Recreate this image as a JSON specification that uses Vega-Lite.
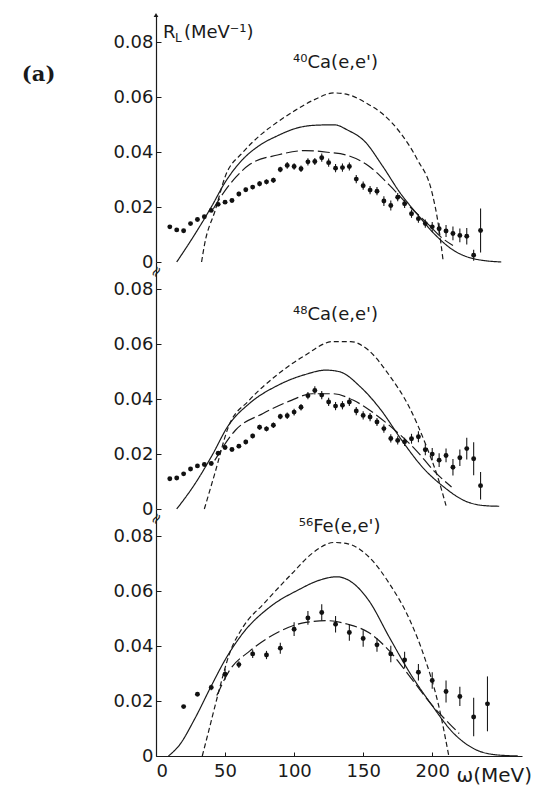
{
  "$schema": "https://vega.github.io/schema/vega-lite/v6.json",
  "background": "white",
  "padding": {"left": 21, "top": 12, "right": 0, "bottom": 0},
  "spacing": 0,
  "bounds": "flush",
  "config": {
    "view": {"stroke": null},
    "font": "DejaVu Sans",
    "axis": {
      "grid": false,
      "domainColor": "#1a1a1a",
      "domainWidth": 1.2,
      "tickColor": "#1a1a1a",
      "labelColor": "#1a1a1a",
      "labelFont": "DejaVu Sans",
      "labelFontSize": 18,
      "titleColor": "#1a1a1a"
    }
  },
  "datasets": {
    "curves": [
      {"p": 1, "m": "solid", "w": 15, "R": 0},
      {"p": 1, "m": "solid", "w": 28, "R": 0.01},
      {"p": 1, "m": "solid", "w": 40, "R": 0.02},
      {"p": 1, "m": "solid", "w": 50, "R": 0.029},
      {"p": 1, "m": "solid", "w": 63, "R": 0.0375},
      {"p": 1, "m": "solid", "w": 75, "R": 0.0425},
      {"p": 1, "m": "solid", "w": 88, "R": 0.046},
      {"p": 1, "m": "solid", "w": 100, "R": 0.0485},
      {"p": 1, "m": "solid", "w": 114, "R": 0.0498},
      {"p": 1, "m": "solid", "w": 129, "R": 0.05},
      {"p": 1, "m": "solid", "w": 139, "R": 0.048},
      {"p": 1, "m": "solid", "w": 151, "R": 0.044},
      {"p": 1, "m": "solid", "w": 164, "R": 0.035},
      {"p": 1, "m": "solid", "w": 177, "R": 0.025},
      {"p": 1, "m": "solid", "w": 189, "R": 0.0175},
      {"p": 1, "m": "solid", "w": 202, "R": 0.01},
      {"p": 1, "m": "solid", "w": 215, "R": 0.0044},
      {"p": 1, "m": "solid", "w": 230, "R": 0.0012},
      {"p": 1, "m": "solid", "w": 250, "R": 0},
      {"p": 1, "m": "upper", "w": 33, "R": 0},
      {"p": 1, "m": "upper", "w": 35, "R": 0.006},
      {"p": 1, "m": "upper", "w": 43, "R": 0.019},
      {"p": 1, "m": "upper", "w": 50, "R": 0.031},
      {"p": 1, "m": "upper", "w": 63, "R": 0.04},
      {"p": 1, "m": "upper", "w": 75, "R": 0.046},
      {"p": 1, "m": "upper", "w": 88, "R": 0.051},
      {"p": 1, "m": "upper", "w": 100, "R": 0.055},
      {"p": 1, "m": "upper", "w": 114, "R": 0.059},
      {"p": 1, "m": "upper", "w": 129, "R": 0.0616},
      {"p": 1, "m": "upper", "w": 139, "R": 0.061},
      {"p": 1, "m": "upper", "w": 152, "R": 0.058},
      {"p": 1, "m": "upper", "w": 164, "R": 0.054},
      {"p": 1, "m": "upper", "w": 177, "R": 0.047},
      {"p": 1, "m": "upper", "w": 189, "R": 0.0375},
      {"p": 1, "m": "upper", "w": 200, "R": 0.025},
      {"p": 1, "m": "upper", "w": 204, "R": 0.015},
      {"p": 1, "m": "upper", "w": 208, "R": 0},
      {"p": 1, "m": "lower", "w": 41.5, "R": 0.0194},
      {"p": 1, "m": "lower", "w": 50, "R": 0.026},
      {"p": 1, "m": "lower", "w": 58, "R": 0.031},
      {"p": 1, "m": "lower", "w": 68, "R": 0.0356},
      {"p": 1, "m": "lower", "w": 88, "R": 0.039},
      {"p": 1, "m": "lower", "w": 108, "R": 0.0406},
      {"p": 1, "m": "lower", "w": 124, "R": 0.04},
      {"p": 1, "m": "lower", "w": 139, "R": 0.0388},
      {"p": 1, "m": "lower", "w": 154, "R": 0.035},
      {"p": 1, "m": "lower", "w": 169, "R": 0.028},
      {"p": 1, "m": "lower", "w": 184, "R": 0.02},
      {"p": 1, "m": "lower", "w": 197, "R": 0.0138},
      {"p": 1, "m": "lower", "w": 207, "R": 0.0088},
      {"p": 1, "m": "lower", "w": 215, "R": 0.006},

      {"p": 2, "m": "solid", "w": 15, "R": 0},
      {"p": 2, "m": "solid", "w": 28, "R": 0.009},
      {"p": 2, "m": "solid", "w": 40, "R": 0.019},
      {"p": 2, "m": "solid", "w": 52.5, "R": 0.0305},
      {"p": 2, "m": "solid", "w": 67.5, "R": 0.0384},
      {"p": 2, "m": "solid", "w": 88, "R": 0.045},
      {"p": 2, "m": "solid", "w": 108, "R": 0.049},
      {"p": 2, "m": "solid", "w": 123, "R": 0.0506},
      {"p": 2, "m": "solid", "w": 133, "R": 0.05},
      {"p": 2, "m": "solid", "w": 148, "R": 0.0445},
      {"p": 2, "m": "solid", "w": 163, "R": 0.036},
      {"p": 2, "m": "solid", "w": 178, "R": 0.025},
      {"p": 2, "m": "solid", "w": 193, "R": 0.0152},
      {"p": 2, "m": "solid", "w": 208.5, "R": 0.008},
      {"p": 2, "m": "solid", "w": 223.5, "R": 0.003},
      {"p": 2, "m": "solid", "w": 238.5, "R": 0.0012},
      {"p": 2, "m": "solid", "w": 248.5, "R": 0.001},
      {"p": 2, "m": "upper", "w": 35, "R": 0},
      {"p": 2, "m": "upper", "w": 42.5, "R": 0.0128},
      {"p": 2, "m": "upper", "w": 52.5, "R": 0.03},
      {"p": 2, "m": "upper", "w": 67.5, "R": 0.0396},
      {"p": 2, "m": "upper", "w": 88, "R": 0.049},
      {"p": 2, "m": "upper", "w": 108, "R": 0.056},
      {"p": 2, "m": "upper", "w": 128, "R": 0.061},
      {"p": 2, "m": "upper", "w": 141, "R": 0.061},
      {"p": 2, "m": "upper", "w": 153.5, "R": 0.058},
      {"p": 2, "m": "upper", "w": 168.5, "R": 0.049},
      {"p": 2, "m": "upper", "w": 183.5, "R": 0.037},
      {"p": 2, "m": "upper", "w": 196, "R": 0.0226},
      {"p": 2, "m": "upper", "w": 204, "R": 0.0116},
      {"p": 2, "m": "upper", "w": 210, "R": 0.0012},
      {"p": 2, "m": "lower", "w": 42.5, "R": 0.0177},
      {"p": 2, "m": "lower", "w": 57.5, "R": 0.0287},
      {"p": 2, "m": "lower", "w": 77.5, "R": 0.0348},
      {"p": 2, "m": "lower", "w": 98, "R": 0.0396},
      {"p": 2, "m": "lower", "w": 113, "R": 0.042},
      {"p": 2, "m": "lower", "w": 128, "R": 0.042},
      {"p": 2, "m": "lower", "w": 143, "R": 0.0396},
      {"p": 2, "m": "lower", "w": 158, "R": 0.0348},
      {"p": 2, "m": "lower", "w": 173, "R": 0.0287},
      {"p": 2, "m": "lower", "w": 188.5, "R": 0.0213},
      {"p": 2, "m": "lower", "w": 201, "R": 0.014},
      {"p": 2, "m": "lower", "w": 214, "R": 0.008},

      {"p": 3, "m": "solid", "w": 9, "R": 0},
      {"p": 3, "m": "solid", "w": 17, "R": 0.004},
      {"p": 3, "m": "solid", "w": 28, "R": 0.0135},
      {"p": 3, "m": "solid", "w": 40, "R": 0.0255},
      {"p": 3, "m": "solid", "w": 50, "R": 0.035},
      {"p": 3, "m": "solid", "w": 63, "R": 0.0448},
      {"p": 3, "m": "solid", "w": 83, "R": 0.0545},
      {"p": 3, "m": "solid", "w": 103, "R": 0.0605},
      {"p": 3, "m": "solid", "w": 118, "R": 0.064},
      {"p": 3, "m": "solid", "w": 131, "R": 0.0653},
      {"p": 3, "m": "solid", "w": 141.5, "R": 0.0634},
      {"p": 3, "m": "solid", "w": 154, "R": 0.0567},
      {"p": 3, "m": "solid", "w": 169, "R": 0.0432},
      {"p": 3, "m": "solid", "w": 184.5, "R": 0.0297},
      {"p": 3, "m": "solid", "w": 199.5, "R": 0.0187},
      {"p": 3, "m": "solid", "w": 214.5, "R": 0.0088},
      {"p": 3, "m": "solid", "w": 230, "R": 0.0027},
      {"p": 3, "m": "solid", "w": 245, "R": 0.0005},
      {"p": 3, "m": "solid", "w": 262, "R": 0},
      {"p": 3, "m": "upper", "w": 33.5, "R": 0},
      {"p": 3, "m": "upper", "w": 38, "R": 0.0088},
      {"p": 3, "m": "upper", "w": 45.5, "R": 0.0236},
      {"p": 3, "m": "upper", "w": 53, "R": 0.037},
      {"p": 3, "m": "upper", "w": 63, "R": 0.047},
      {"p": 3, "m": "upper", "w": 78, "R": 0.0555},
      {"p": 3, "m": "upper", "w": 98.5, "R": 0.0665},
      {"p": 3, "m": "upper", "w": 113.5, "R": 0.074},
      {"p": 3, "m": "upper", "w": 129, "R": 0.0778},
      {"p": 3, "m": "upper", "w": 139, "R": 0.0773},
      {"p": 3, "m": "upper", "w": 154, "R": 0.0726},
      {"p": 3, "m": "upper", "w": 169, "R": 0.0628},
      {"p": 3, "m": "upper", "w": 184, "R": 0.0493},
      {"p": 3, "m": "upper", "w": 194.5, "R": 0.0358},
      {"p": 3, "m": "upper", "w": 204.5, "R": 0.0187},
      {"p": 3, "m": "upper", "w": 212, "R": 0},
      {"p": 3, "m": "lower", "w": 44, "R": 0.022},
      {"p": 3, "m": "lower", "w": 53, "R": 0.031},
      {"p": 3, "m": "lower", "w": 68, "R": 0.0383},
      {"p": 3, "m": "lower", "w": 88, "R": 0.045},
      {"p": 3, "m": "lower", "w": 108.5, "R": 0.0487},
      {"p": 3, "m": "lower", "w": 124, "R": 0.0493},
      {"p": 3, "m": "lower", "w": 139, "R": 0.048},
      {"p": 3, "m": "lower", "w": 154, "R": 0.045},
      {"p": 3, "m": "lower", "w": 169, "R": 0.0383},
      {"p": 3, "m": "lower", "w": 184.5, "R": 0.0285},
      {"p": 3, "m": "lower", "w": 199.5, "R": 0.0187},
      {"p": 3, "m": "lower", "w": 212, "R": 0.012},
      {"p": 3, "m": "lower", "w": 219.5, "R": 0.0082}
    ],
    "points": [
      {"p": 1, "w": 10, "R": 0.0128, "err": 0.0005},
      {"p": 1, "w": 15, "R": 0.0117, "err": 0.0005},
      {"p": 1, "w": 20, "R": 0.0114, "err": 0.0005},
      {"p": 1, "w": 25, "R": 0.014, "err": 0.0005},
      {"p": 1, "w": 30, "R": 0.0155, "err": 0.0005},
      {"p": 1, "w": 35, "R": 0.0165, "err": 0.0005},
      {"p": 1, "w": 40, "R": 0.0188, "err": 0.0005},
      {"p": 1, "w": 45, "R": 0.021, "err": 0.0006},
      {"p": 1, "w": 50, "R": 0.0218, "err": 0.0006},
      {"p": 1, "w": 55, "R": 0.0224, "err": 0.0006},
      {"p": 1, "w": 60, "R": 0.0248, "err": 0.0008},
      {"p": 1, "w": 65, "R": 0.0263, "err": 0.0008},
      {"p": 1, "w": 70, "R": 0.0273, "err": 0.0008},
      {"p": 1, "w": 75, "R": 0.0285, "err": 0.0009},
      {"p": 1, "w": 80, "R": 0.0292, "err": 0.0009},
      {"p": 1, "w": 85, "R": 0.0298, "err": 0.0009},
      {"p": 1, "w": 90, "R": 0.0337, "err": 0.001},
      {"p": 1, "w": 95, "R": 0.0352, "err": 0.0012},
      {"p": 1, "w": 100, "R": 0.0348, "err": 0.0012},
      {"p": 1, "w": 105, "R": 0.034, "err": 0.0012},
      {"p": 1, "w": 110, "R": 0.0365, "err": 0.0013},
      {"p": 1, "w": 115, "R": 0.0366, "err": 0.0013},
      {"p": 1, "w": 120, "R": 0.038, "err": 0.0015},
      {"p": 1, "w": 125, "R": 0.0362, "err": 0.0015},
      {"p": 1, "w": 130, "R": 0.0342, "err": 0.0015},
      {"p": 1, "w": 135, "R": 0.0344, "err": 0.0015},
      {"p": 1, "w": 140, "R": 0.0348, "err": 0.0015},
      {"p": 1, "w": 145, "R": 0.0302, "err": 0.0015},
      {"p": 1, "w": 150, "R": 0.0278, "err": 0.0015},
      {"p": 1, "w": 155, "R": 0.0262, "err": 0.0015},
      {"p": 1, "w": 160, "R": 0.0258, "err": 0.0015},
      {"p": 1, "w": 165, "R": 0.0222, "err": 0.0018},
      {"p": 1, "w": 170, "R": 0.0206, "err": 0.0018},
      {"p": 1, "w": 175, "R": 0.0236, "err": 0.0015},
      {"p": 1, "w": 180, "R": 0.0212, "err": 0.0015},
      {"p": 1, "w": 185, "R": 0.0176, "err": 0.0015},
      {"p": 1, "w": 190, "R": 0.0158, "err": 0.0015},
      {"p": 1, "w": 195, "R": 0.014, "err": 0.0015},
      {"p": 1, "w": 200, "R": 0.0128, "err": 0.0018},
      {"p": 1, "w": 205, "R": 0.0121, "err": 0.002},
      {"p": 1, "w": 210, "R": 0.0113, "err": 0.0022},
      {"p": 1, "w": 215, "R": 0.0104, "err": 0.0025},
      {"p": 1, "w": 220, "R": 0.0097, "err": 0.0025},
      {"p": 1, "w": 225, "R": 0.0094, "err": 0.003},
      {"p": 1, "w": 230, "R": 0.0025, "err": 0.002},
      {"p": 1, "w": 235, "R": 0.0115, "err": 0.008},

      {"p": 2, "w": 10, "R": 0.011, "err": 0.0005},
      {"p": 2, "w": 15, "R": 0.0113, "err": 0.0005},
      {"p": 2, "w": 20, "R": 0.0128, "err": 0.0005},
      {"p": 2, "w": 25, "R": 0.0146, "err": 0.0005},
      {"p": 2, "w": 30, "R": 0.0157, "err": 0.0005},
      {"p": 2, "w": 35, "R": 0.0162, "err": 0.0005},
      {"p": 2, "w": 40, "R": 0.0166, "err": 0.0006},
      {"p": 2, "w": 45, "R": 0.0203, "err": 0.0006},
      {"p": 2, "w": 50, "R": 0.0224, "err": 0.0006},
      {"p": 2, "w": 55, "R": 0.0217, "err": 0.0006},
      {"p": 2, "w": 60, "R": 0.0229, "err": 0.0008},
      {"p": 2, "w": 65, "R": 0.0244, "err": 0.0008},
      {"p": 2, "w": 70, "R": 0.0266, "err": 0.0008},
      {"p": 2, "w": 75, "R": 0.0298, "err": 0.0009},
      {"p": 2, "w": 80, "R": 0.0292, "err": 0.0009},
      {"p": 2, "w": 85, "R": 0.0305, "err": 0.001},
      {"p": 2, "w": 90, "R": 0.0337, "err": 0.001},
      {"p": 2, "w": 95, "R": 0.034, "err": 0.0012},
      {"p": 2, "w": 100, "R": 0.0353, "err": 0.0012},
      {"p": 2, "w": 105, "R": 0.0371, "err": 0.0012},
      {"p": 2, "w": 110, "R": 0.0413, "err": 0.0013},
      {"p": 2, "w": 115, "R": 0.0432, "err": 0.0015},
      {"p": 2, "w": 120, "R": 0.0415, "err": 0.0015},
      {"p": 2, "w": 125, "R": 0.039, "err": 0.0015},
      {"p": 2, "w": 130, "R": 0.0375, "err": 0.0015},
      {"p": 2, "w": 135, "R": 0.0378, "err": 0.0015},
      {"p": 2, "w": 140, "R": 0.039, "err": 0.0015},
      {"p": 2, "w": 145, "R": 0.0357, "err": 0.0015},
      {"p": 2, "w": 150, "R": 0.0341, "err": 0.0015},
      {"p": 2, "w": 155, "R": 0.0335, "err": 0.0015},
      {"p": 2, "w": 160, "R": 0.0317, "err": 0.0015},
      {"p": 2, "w": 165, "R": 0.0293, "err": 0.0015},
      {"p": 2, "w": 170, "R": 0.0257, "err": 0.0015},
      {"p": 2, "w": 175, "R": 0.025, "err": 0.0015},
      {"p": 2, "w": 180, "R": 0.0245, "err": 0.0015},
      {"p": 2, "w": 185, "R": 0.0256, "err": 0.0018},
      {"p": 2, "w": 190, "R": 0.0263, "err": 0.002},
      {"p": 2, "w": 195, "R": 0.0216, "err": 0.002},
      {"p": 2, "w": 200, "R": 0.02, "err": 0.0022},
      {"p": 2, "w": 205, "R": 0.0178, "err": 0.0025},
      {"p": 2, "w": 210, "R": 0.0195, "err": 0.0025},
      {"p": 2, "w": 215, "R": 0.0152, "err": 0.003},
      {"p": 2, "w": 220, "R": 0.0187, "err": 0.003},
      {"p": 2, "w": 225, "R": 0.022, "err": 0.004},
      {"p": 2, "w": 230, "R": 0.0183, "err": 0.006},
      {"p": 2, "w": 235, "R": 0.0085, "err": 0.005},

      {"p": 3, "w": 20, "R": 0.018, "err": 0.0005},
      {"p": 3, "w": 30, "R": 0.0225, "err": 0.0006},
      {"p": 3, "w": 40, "R": 0.025, "err": 0.001},
      {"p": 3, "w": 50, "R": 0.0298, "err": 0.002},
      {"p": 3, "w": 60, "R": 0.0333, "err": 0.0012},
      {"p": 3, "w": 70, "R": 0.0372, "err": 0.0015},
      {"p": 3, "w": 80, "R": 0.0368, "err": 0.0015},
      {"p": 3, "w": 90, "R": 0.0393, "err": 0.002},
      {"p": 3, "w": 100, "R": 0.0462, "err": 0.0025},
      {"p": 3, "w": 110, "R": 0.0503, "err": 0.0025},
      {"p": 3, "w": 120, "R": 0.0523, "err": 0.003},
      {"p": 3, "w": 130, "R": 0.048, "err": 0.003},
      {"p": 3, "w": 140, "R": 0.045, "err": 0.003},
      {"p": 3, "w": 150, "R": 0.0428, "err": 0.003},
      {"p": 3, "w": 160, "R": 0.0405, "err": 0.0025},
      {"p": 3, "w": 170, "R": 0.0372, "err": 0.003},
      {"p": 3, "w": 180, "R": 0.035, "err": 0.003},
      {"p": 3, "w": 190, "R": 0.0305, "err": 0.003},
      {"p": 3, "w": 200, "R": 0.0275, "err": 0.003},
      {"p": 3, "w": 210, "R": 0.0235, "err": 0.004},
      {"p": 3, "w": 220, "R": 0.0217, "err": 0.0035},
      {"p": 3, "w": 230, "R": 0.0142, "err": 0.007},
      {"p": 3, "w": 240, "R": 0.019, "err": 0.01}
    ],
    "labels": [
      {"p": 1, "w": 130, "R": 0.0725, "t": "⁴⁰Ca(e,e')"},
      {"p": 2, "w": 130, "R": 0.0707, "t": "⁴⁸Ca(e,e')"},
      {"p": 3, "w": 133, "R": 0.0835, "t": "⁵⁶Fe(e,e')"}
    ],
    "tags": [
      {"w": -85, "R": 0.068, "t": "(a)"}
    ],
    "ytitle": [
      {"w": 5, "R": 0.0815}
    ],
    "arrow": [
      {"w": 0, "R": 0.09}
    ],
    "breaks": [
      {"w": 0, "R": 0.0865}
    ]
  },
  "vconcat": [
    {
      "width": 366,
      "height": 247,
      "layer": [
        {
          "data": {"name": "curves"},
          "transform": [{"filter": "datum.p == 1"}],
          "mark": {"type": "line", "color": "#1a1a1a", "strokeWidth": 1.2, "interpolate": "monotone"},
          "encoding": {
            "x": {"field": "w", "type": "quantitative", "scale": {"domain": [0, 265], "nice": false}, "axis": null},
            "y": {"field": "R", "type": "quantitative", "scale": {"domain": [0, 0.09], "nice": false},
              "axis": {"title": null, "values": [0, 0.02, 0.04, 0.06, 0.08], "labelExpr": "datum.value == 0 ? '0' : format(datum.value, '.2f')", "tickSize": -5, "labelPadding": 8}},
            "strokeDash": {"field": "m", "type": "nominal", "scale": {"domain": ["solid", "upper", "lower"], "range": [[1, 0], [5, 3], [12, 4]]}, "legend": null},
            "detail": {"field": "m"}
          }
        },
        {
          "data": {"name": "points"},
          "transform": [{"filter": "datum.p == 1"}],
          "mark": {"type": "errorbar", "color": "#1a1a1a", "thickness": 1.1},
          "encoding": {
            "x": {"field": "w", "type": "quantitative", "axis": null},
            "y": {"field": "R", "type": "quantitative", "title": null},
            "yError": {"field": "err"}
          }
        },
        {
          "data": {"name": "points"},
          "transform": [{"filter": "datum.p == 1"}],
          "mark": {"type": "circle", "color": "#111", "size": 24, "opacity": 1},
          "encoding": {
            "x": {"field": "w", "type": "quantitative", "axis": null},
            "y": {"field": "R", "type": "quantitative", "title": null}
          }
        },
        {
          "data": {"name": "labels"},
          "transform": [{"filter": "datum.p == 1"}],
          "mark": {"type": "text", "fontSize": 18, "color": "#1a1a1a", "align": "center", "baseline": "middle"},
          "encoding": {
            "x": {"field": "w", "type": "quantitative", "axis": null},
            "y": {"field": "R", "type": "quantitative", "title": null},
            "text": {"field": "t"}
          }
        },
        {
          "data": {"name": "tags"},
          "mark": {"type": "text", "fontSize": 21, "font": "DejaVu Serif", "fontWeight": "bold", "color": "#1a1a1a", "align": "center", "baseline": "middle"},
          "encoding": {
            "x": {"field": "w", "type": "quantitative", "axis": null},
            "y": {"field": "R", "type": "quantitative", "title": null},
            "text": {"field": "t"}
          }
        },
        {
          "data": {"name": "ytitle"},
          "mark": {"type": "text", "fontSize": 18, "color": "#1a1a1a", "align": "left", "baseline": "alphabetic", "text": "R"},
          "encoding": {
            "x": {"field": "w", "type": "quantitative", "axis": null},
            "y": {"field": "R", "type": "quantitative", "title": null}
          }
        },
        {
          "data": {"name": "ytitle"},
          "mark": {"type": "text", "fontSize": 12, "color": "#1a1a1a", "align": "left", "baseline": "alphabetic", "text": "L", "dx": 12, "dy": 4},
          "encoding": {
            "x": {"field": "w", "type": "quantitative", "axis": null},
            "y": {"field": "R", "type": "quantitative", "title": null}
          }
        },
        {
          "data": {"name": "ytitle"},
          "mark": {"type": "text", "fontSize": 18, "color": "#1a1a1a", "align": "left", "baseline": "alphabetic", "text": "(MeV⁻¹)", "dx": 21},
          "encoding": {
            "x": {"field": "w", "type": "quantitative", "axis": null},
            "y": {"field": "R", "type": "quantitative", "title": null}
          }
        },
        {
          "data": {"name": "arrow"},
          "mark": {"type": "point", "shape": "triangle-up", "filled": true, "color": "#1a1a1a", "size": 22, "opacity": 1},
          "encoding": {
            "x": {"field": "w", "type": "quantitative", "axis": null},
            "y": {"field": "R", "type": "quantitative", "title": null}
          }
        }
      ]
    },
    {
      "width": 366,
      "height": 247,
      "layer": [
        {
          "data": {"name": "curves"},
          "transform": [{"filter": "datum.p == 2"}],
          "mark": {"type": "line", "color": "#1a1a1a", "strokeWidth": 1.2, "interpolate": "monotone"},
          "encoding": {
            "x": {"field": "w", "type": "quantitative", "scale": {"domain": [0, 265], "nice": false}, "axis": null},
            "y": {"field": "R", "type": "quantitative", "scale": {"domain": [0, 0.09], "nice": false},
              "axis": {"title": null, "values": [0, 0.02, 0.04, 0.06, 0.08], "labelExpr": "datum.value == 0 ? '0' : format(datum.value, '.2f')", "tickSize": -5, "labelPadding": 8}},
            "strokeDash": {"field": "m", "type": "nominal", "scale": {"domain": ["solid", "upper", "lower"], "range": [[1, 0], [5, 3], [12, 4]]}, "legend": null},
            "detail": {"field": "m"}
          }
        },
        {
          "data": {"name": "points"},
          "transform": [{"filter": "datum.p == 2"}],
          "mark": {"type": "errorbar", "color": "#1a1a1a", "thickness": 1.1},
          "encoding": {
            "x": {"field": "w", "type": "quantitative", "axis": null},
            "y": {"field": "R", "type": "quantitative", "title": null},
            "yError": {"field": "err"}
          }
        },
        {
          "data": {"name": "points"},
          "transform": [{"filter": "datum.p == 2"}],
          "mark": {"type": "circle", "color": "#111", "size": 24, "opacity": 1},
          "encoding": {
            "x": {"field": "w", "type": "quantitative", "axis": null},
            "y": {"field": "R", "type": "quantitative", "title": null}
          }
        },
        {
          "data": {"name": "labels"},
          "transform": [{"filter": "datum.p == 2"}],
          "mark": {"type": "text", "fontSize": 18, "color": "#1a1a1a", "align": "center", "baseline": "middle"},
          "encoding": {
            "x": {"field": "w", "type": "quantitative", "axis": null},
            "y": {"field": "R", "type": "quantitative", "title": null},
            "text": {"field": "t"}
          }
        },
        {
          "data": {"name": "breaks"},
          "mark": {"type": "text", "text": "≈", "fontSize": 15, "color": "#1a1a1a", "align": "center", "baseline": "middle", "angle": 300},
          "encoding": {
            "x": {"field": "w", "type": "quantitative", "axis": null},
            "y": {"field": "R", "type": "quantitative", "title": null}
          }
        }
      ]
    },
    {
      "width": 366,
      "height": 247,
      "layer": [
        {
          "data": {"name": "curves"},
          "transform": [{"filter": "datum.p == 3"}],
          "mark": {"type": "line", "color": "#1a1a1a", "strokeWidth": 1.2, "interpolate": "monotone"},
          "encoding": {
            "x": {"field": "w", "type": "quantitative", "scale": {"domain": [0, 265], "nice": false}, "title": "ω(MeV)",
              "axis": {"values": [0, 50, 100, 150, 200], "tickSize": -4, "labelPadding": 10, "titleFontSize": 20, "titleFontWeight": "normal", "titleAlign": "left", "titleBaseline": "middle", "titleX": 300, "titleY": 19}},
            "y": {"field": "R", "type": "quantitative", "scale": {"domain": [0, 0.09], "nice": false},
              "axis": {"title": null, "values": [0, 0.02, 0.04, 0.06, 0.08], "labelExpr": "datum.value == 0 ? '0' : format(datum.value, '.2f')", "tickSize": -5, "labelPadding": 8}},
            "strokeDash": {"field": "m", "type": "nominal", "scale": {"domain": ["solid", "upper", "lower"], "range": [[1, 0], [5, 3], [12, 4]]}, "legend": null},
            "detail": {"field": "m"}
          }
        },
        {
          "data": {"name": "points"},
          "transform": [{"filter": "datum.p == 3"}],
          "mark": {"type": "errorbar", "color": "#1a1a1a", "thickness": 1.1},
          "encoding": {
            "x": {"field": "w", "type": "quantitative", "title": "ω(MeV)"},
            "y": {"field": "R", "type": "quantitative", "title": null},
            "yError": {"field": "err"}
          }
        },
        {
          "data": {"name": "points"},
          "transform": [{"filter": "datum.p == 3"}],
          "mark": {"type": "circle", "color": "#111", "size": 24, "opacity": 1},
          "encoding": {
            "x": {"field": "w", "type": "quantitative", "title": "ω(MeV)"},
            "y": {"field": "R", "type": "quantitative", "title": null}
          }
        },
        {
          "data": {"name": "labels"},
          "transform": [{"filter": "datum.p == 3"}],
          "mark": {"type": "text", "fontSize": 18, "color": "#1a1a1a", "align": "center", "baseline": "middle"},
          "encoding": {
            "x": {"field": "w", "type": "quantitative", "title": "ω(MeV)"},
            "y": {"field": "R", "type": "quantitative", "title": null},
            "text": {"field": "t"}
          }
        },
        {
          "data": {"name": "breaks"},
          "mark": {"type": "text", "text": "≈", "fontSize": 15, "color": "#1a1a1a", "align": "center", "baseline": "middle", "angle": 300},
          "encoding": {
            "x": {"field": "w", "type": "quantitative", "title": "ω(MeV)"},
            "y": {"field": "R", "type": "quantitative", "title": null}
          }
        }
      ]
    }
  ]
}
